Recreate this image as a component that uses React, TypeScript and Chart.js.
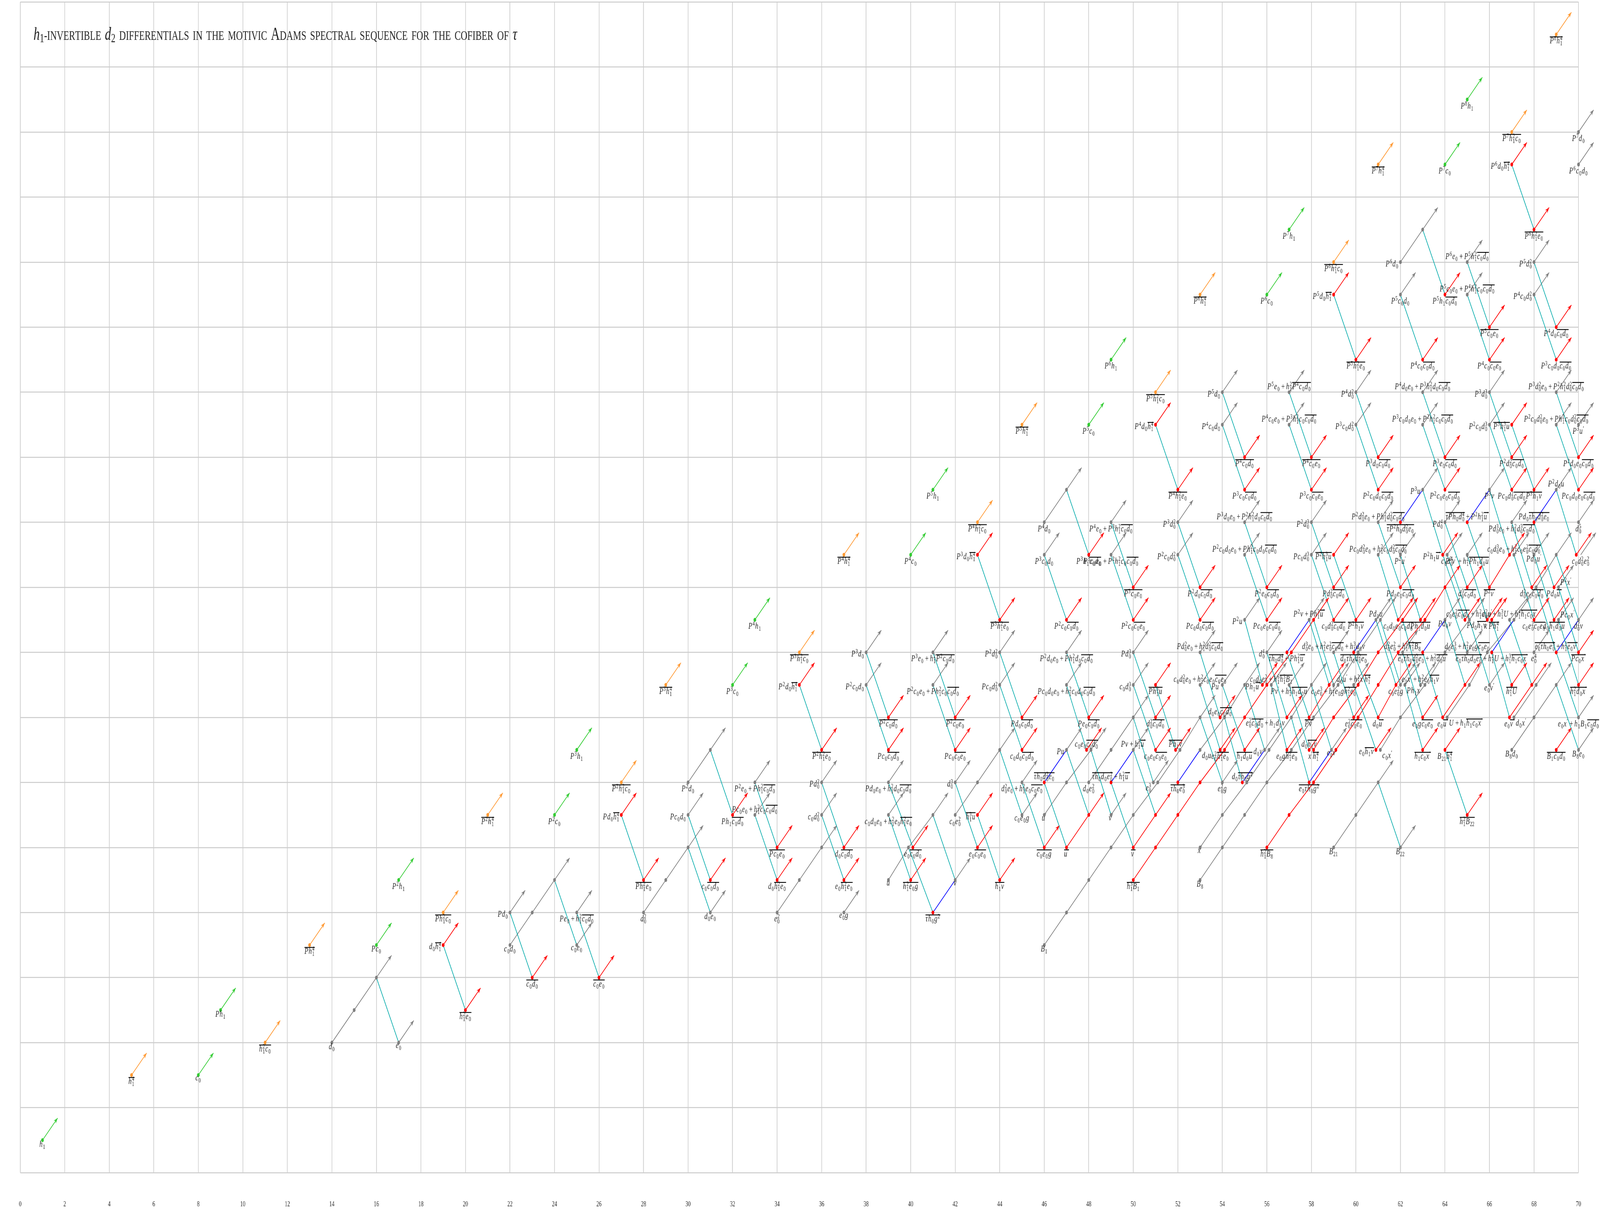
import React, { useEffect, useRef } from "react";
import { Chart, registerables } from "chart.js";

Chart.register(...registerables);

const stemTicks = [0, 2, 4, 6, 8, 10, 12, 14, 16, 18, 20, 22, 24, 26, 28, 30, 32, 34, 36, 38, 40, 42, 44, 46, 48, 50, 52, 54, 56, 58, 60, 62, 64, 66, 68, 70];
const titleText = "invertible differentials in the motivic Adams spectral sequence for the cofiber of";

const greenTowers = [[1,1],[9,5],[17,9],[25,13],[33,17],[41,21],[49,25],[57,29],[65,33],[8,3],[16,7],[24,11],[32,15],[40,19],[48,23],[56,27],[64,31]];
const orangeTowers = [[5,3],[13,7],[21,11],[29,15],[37,19],[45,23],[53,27],[61,31],[69,35],[11,4],[19,8],[27,12],[35,16],[43,20],[51,24],[59,28],[67,32]];
const redTowers = [
  [19,7],[20,5],[27,11],[28,9],[35,15],[36,13],[43,19],[44,17],[51,23],[52,21],[59,27],[60,25],[67,31],[68,29],
  [23,6],[32,11],[39,14],[48,19],[55,22],[64,27],
  [31,9],[39,13],[47,17],[55,21],[63,25],
  [26,6],[34,10],[42,14],[50,18],[58,22],[66,26],
  [34,9],[42,13],[50,17],[58,21],[66,25],
  [37,10],[45,14],[53,18],[61,22],[69,26],
  [37,9],[45,13],[53,17],[61,21],[69,25],
  [40.1,10],[48,14],[56,18],[64,22],
  [40,9],[47.9,13],[56,17],[64,21],
  [43,10],[51,14],[59,18],[67,22],
  [51,13],[59,17],[67,21],
  [46,10],[53.9,14],[62,18],[70,22],
  [53.9,13],[61.9,17],[70,21],
  [43,11],[44,9],[51,15],[51.9,13],[59,19],[60,17],[67,23],[68,21],
  [55,13],[55.8,15],[56.9,13],[56.9,14],[57.9,13],[59.9,14],[60.9,13],[62.9,17],[63,13],[63,14],[63.9,19],[64,13],[64.9,17],[65,11],[65,18],[65.9,17],[66.1,17],[67,15],[67.9,18],[68,17],[68.9,17],[68.9,18],[69,13],[69.9,19],[70,15],[70,16],
];
const redDots = [[41,8],[46,12],[49,12],[52,12],[54.9,12],[56.9,16],[57.9,12],[59.9,16],[62,20],[63,16],[65,20],[66.1,16],[68,20],[69,16]];
const grayTowers = [
  [17,4],[22,8],[25,7],[25,8],[30,11],[31,8],[33,11],[33,12],[36,11],[36,12],[37,8],[38,15],[38,16],[39,11],[39,12],[41,15],[41,16],[42,9],[42,12],
  [44,15],[44,16],[45,11],[45,12],[46,19],[47,13],[47,15],[47,16],[49,11],[49,19],[49,20],[50,13],[50,15],[50,16],[50.9,12],[52,19],[52,20],[53,15],[53,16],
  [54,12],[54,15],[54,23],[54,24],[55,17],[55,19],[55,20],[55.9,13],[56,16],[56.2,15],[57,15],[57,23],[57,24],[57.9,17],[58,19],[58,20],[58.9,13],[59,15],[59,16],[59.9,15],
  [60,23],[60,24],[60.9,17],[61,19],[61,20],[62,15],[62.1,16],[62.2,15],[62,19],[62,27],[62.9,15],[63,21],[63,23],[63,24],[64,17],[64,20],[64.1,19],
  [65,16],[65,19],[65,27],[65,28],[66,15],[66,21],[66,23],[66,24],[67,20],[67.1,19],[68,16],[68,19],[68,27],[68,28],[69,21],[69,23],[69,24],[69.1,17],[69.1,18],
  [70,13],[70,14],[70,17],[70,20],[70,23],[70,31],[70,32],[70.1,19],[62,10],
];
const grayChains = [
  [[14,4],[15,5],[16,6]],[[22,7],[23,8],[24,9]],[[28,8],[29,9],[30,10]],[[30,12],[31,13]],[[34,8],[35,9],[36,10]],
  [[39,9],[39.9,10],[41,11]],[[42,11],[43,12],[44,13]],[[46,20],[47,21]],[[62,28],[63,29]],
  [[46,11],[47,12],[48.1,13]],[[48,12],[49,13],[50,14]],
  [[46,7],[47,8],[48,9],[49,10],[50,11],[51.1,12],[52.1,13],[53,14]],
  [[53,13],[54.1,14],[55,15]],
  [[53,10],[54,11],[55.1,12],[56.1,13],[57.1,14],[58,15]],
  [[53,9],[54,10],[55,11],[56,12],[57.1,13],[58.1,14],[59.2,15],[60.1,16],[61.1,17]],
  [[59,10],[60,11],[61,12]],
  [[61.1,13],[62,14],[63.1,15],[64,16],[65.1,17]],
  [[64.1,14],[65.1,15],[65.9,16],[67.1,17]],
  [[66.9,17],[68.1,18],[69,19]],
  [[67,13],[68,14],[69,15]],[[67.1,14],[68.1,15]],
];
const redChains = [
  [[50,9],[51,10],[52,11],[53,12],[54.1,13],[55,14],[56,15],[57.1,16],[58.1,17]],
  [[56,10],[57,11],[58.1,12],[59.1,13],[60.1,14],[61,15],[61.9,16],[63.1,17],[64,18]],
  [[58.1,13],[59,14],[60.1,15],[61,16],[62.1,17]],
  [[47,10],[48,11]],[[50,10],[51,11]],[[57.9,14],[58.8,15]],[[66,18],[66.9,19]],[[61,14],[61.8,15]],[[63.9,14],[64.9,15]],[[66.9,14],[67.9,15]],
];
const blueLinks = [[41,8,42,9],[46,12,47,13],[49,12,50,13],[52,12,53,13],[54.9,12,55.9,13],[56.9,16,57.9,17],[57.9,12,58.9,13],[59.9,16,60.9,17],[62,20,63,21],[63,16,64,17],[65,20,66,21],[66.1,16,67.1,17],[68,20,69,21],[69,16,70,17]];
const cyanLinks = [
  [16,6,17,4],[22,8,23,6],[31,13,32,11],[38,16,39,14],[47,21,48,19],[54,24,55,22],[63,29,64,27],
  [24,9,25,7],[30,11,31,9],[38,15,39,13],[46,19,47,17],[54,23,55,21],[62,27,63,25],
  [19,7,20,5],[27,11,28,9],[35,15,36,13],[43,19,44,17],[51,23,52,21],[59,27,60,25],[67,31,68,29],
  [25,8,26,6],[33,12,34,10],[41,16,42,14],[49,20,50,18],[57,24,58,22],[65,28,66,26],
  [33,11,34,9],[41,15,42,13],[49,19,50,17],[57,23,58,21],[65,27,66,25],
  [30,10,31,8],[36,12,37,10],[44,16,45,14],[52,20,53,18],[60,24,61,22],[68,28,69,26],
  [36,11,37,9],[44,15,45,13],[52,19,53,17],[60,23,61,21],[68,27,69,25],
  [39,12,40.1,10],[47,16,48,14],[55,20,56,18],[63,24,64,22],
  [39,11,40,9],[47,15,47.9,13],[55,19,56,17],[63,23,64,21],
  [42,12,43,10],[50,16,51,14],[58,20,59,18],[66,24,67,22],
  [50,15,51,13],[58,19,59,17],[66,23,67,21],
  [45,12,46,10],[53,16,53.9,14],[61,20,62,18],[69,24,70,22],
  [53,15,53.9,13],[61,19,61.9,17],[69,23,70,21],
  [39.9,10,41,8],[41,11,42,9],[43,11,44,9],[44,13,45,11],[46,12,47,10],[47,13,48,11],[48.1,13,49,11],[49,12,50,10],[50,13,51,11],[50,14,50.9,12],[51,15,51.9,13],[53,14,54,12],[54,15,55,13],[54.1,14,54.9,12],[55,15,55.9,13],[55,17,55.8,15],[56,16,56.9,14],[56.2,15,56.9,13],[56.9,16,57.9,14],[57,15,57.9,13],[57.1,14,57.9,12],[57.9,17,58.8,15],[58,15,58.9,13],[58.1,17,59,15],[59,16,59.9,14],[59,19,60,17],[59.9,15,60.9,13],[59.9,16,61,14],[60.9,17,61.8,15],[61,12,62,10],[61.1,17,62,15],[62.2,15,63,13],[62.1,16,63,14],[62.1,17,62.9,15],[62,19,62.9,17],[63,16,63.9,14],[63,21,63.9,19],[63.9,19,64.9,17],[64,17,64.9,15],[64,18,65,16],[64,13,65,11],[64,20,65,18],[64.1,19,65.1,17],[65,19,65.9,17],[65,20,66,18],[65.1,17,66,15],[66,21,66.9,19],[66.1,16,66.9,14],[66.1,17,67,15],[66.9,17,67.9,15],[67,20,67.9,18],[67,23,68,21],[67.1,19,68,17],[68,19,68.9,17],[68,20,68.9,18],[68.1,18,69,16],[69,15,70,13],[69,16,70,14],[69,19,70,17],[69,21,69.9,19],[69.1,17,70,15],[69.1,18,70,16],
];

// [stem, filtration, text, placement]; [ ] marks an overlined stretch
const classLabels: any[] = [
  [1,1,"h_1","b"],[9,5,"Ph_1","b"],[17,9,"P^2h_1","b"],[25,13,"P^3h_1","b"],[33,17,"P^4h_1","b"],[41,21,"P^5h_1","b"],[49,25,"P^6h_1","b"],[57,29,"P^7h_1","b"],[65,33,"P^8h_1","b"],
  [8,3,"c_0","b"],[16,7,"Pc_0","b"],[24,11,"P^2c_0","b"],[32,15,"P^3c_0","b"],[40,19,"P^4c_0","b"],[48,23,"P^5c_0","b"],[56,27,"P^6c_0","b"],[64,31,"P^7c_0","b"],
  [5,3,"[h_1^4]","b"],[13,7,"[Ph_1^4]","b"],[21,11,"[P^2h_1^4]","b"],[29,15,"[P^3h_1^4]","b"],[37,19,"[P^4h_1^4]","b"],[45,23,"[P^5h_1^4]","b"],[53,27,"[P^6h_1^4]","b"],[61,31,"[P^7h_1^4]","b"],[69,35,"[P^8h_1^4]","b"],
  [11,4,"[h_1^2c_0]","b"],[19,8,"[Ph_1^2c_0]","b"],[27,12,"[P^2h_1^2c_0]","b"],[35,16,"[P^3h_1^2c_0]","b"],[43,20,"[P^4h_1^2c_0]","b"],[51,24,"[P^5h_1^2c_0]","b"],[59,28,"[P^6h_1^2c_0]","b"],[67,32,"[P^7h_1^2c_0]","b"],
  [14,4,"d_0","b"],[17,4,"e_0","b"],[20,5,"[h_1^2e_0]","b"],[19,7,"d_0[h_1^4]","l"],[22,7,"c_0d_0","b"],[22,8,"Pd_0","l"],[23,6,"[c_0d_0]","b"],[25,7,"c_0e_0","b"],[25,8,"Pe_0+h_1^2[c_0d_0]","b"],[26,6,"[c_0e_0]","b"],
  [27,11,"Pd_0[h_1^4]","l"],[28,8,"d_0^2","b"],[28,9,"[Ph_1^2e_0]","b"],[30,11,"Pc_0d_0","l"],[30,12,"P^2d_0","b"],[31,8,"d_0e_0","b"],[31,9,"c_0[c_0d_0]","b"],[32,11,"Ph_1[c_0d_0]","b"],[33,11,"Pc_0e_0+h_1^2c_0[c_0d_0]","t"],[33,12,"P^2e_0+Ph_1^2[c_0d_0]","b"],
  [34,8,"e_0^2","b"],[34,9,"d_0[h_1^2e_0]","b"],[34,10,"[Pc_0e_0]","b"],[35,15,"P^2d_0[h_1^4]","l"],[36,11,"c_0d_0^2","l"],[36,12,"Pd_0^2","l"],[36,13,"[P^2h_1^2e_0]","b"],[37,8,"e_0g","b"],[37,9,"e_0[h_1^2e_0]","b"],[37,10,"d_0[c_0d_0]","b"],
  [38,15,"P^2c_0d_0","l"],[38,16,"P^3d_0","l"],[39,9,"u","b"],[39,11,"c_0d_0e_0+h_1^2e_0[h_1^2e_0]","b"],[39,12,"Pd_0e_0+h_1^2d_0[c_0d_0]","b"],[39,13,"Pc_0[c_0d_0]","b"],[39,14,"[P^2c_0d_0]","b"],[40,9,"[h_1^2e_0g]","b"],[40.1,10,"e_0[c_0d_0]","b"],[41,8,"[τh_0g^2]","b"],
  [41,15,"P^2c_0e_0+Ph_1^2c_0[c_0d_0]","b"],[41,16,"P^3e_0+h_1^2[P^2c_0d_0]","b"],[42,9,"v","b"],[42,11,"c_0e_0^2","b"],[42,12,"d_0^3","l"],[42,13,"Pc_0[c_0e_0]","b"],[42,14,"[P^2c_0e_0]","b"],[43,10,"e_0[c_0e_0]","b"],[43,11,"[h_1^3u]","l"],[43,19,"P^3d_0[h_1^4]","l"],[44,17,"[P^3h_1^2e_0]","b"],
  [44,9,"[h_1v]","b"],[44,15,"Pc_0d_0^2","l"],[44,16,"P^2d_0^2","l"],[45,11,"c_0e_0g","b"],[45,12,"d_0^2e_0+h_1^2e_0[c_0e_0]","b"],[45,13,"c_0d_0[c_0d_0]","b"],[45,14,"Pd_0[c_0d_0]","b"],
  [46,7,"B_1","b"],[46,10,"[c_0e_0g]","b"],[46,11,"u'","b"],[46,12,"[τh_0d_0^2e_0]","t"],[46,19,"P^3c_0d_0","b"],[46,20,"P^4d_0","b"],[47,10,"[u']","b"],[47,13,"Pu","l"],[47,15,"Pc_0d_0e_0+h_1^2c_0d_0[c_0d_0]","b"],[47,16,"P^2d_0e_0+Ph_1^2d_0[c_0d_0]","b"],[47,17,"P^2c_0[c_0d_0]","b"],
  [47.9,13,"c_0e_0[c_0d_0]","t"],[48,12,"d_0e_0^2","b"],[48,14,"Pe_0[c_0d_0]","b"],[48,19,"P^3h_1[c_0d_0]","b"],[49,11,"v'","b"],[49,12,"[τh_0d_0e_0^2]+h_1^2[u']","t"],[49,19,"P^3c_0e_0+P^2h_1^2c_0[c_0d_0]","b"],[49,20,"P^4e_0+P^3h_1^2[c_0d_0]","b"],
  [50,9,"[h_1^3B_1]","b"],[50,10,"[v']","b"],[50,13,"Pv+h_1^3[u']","t"],[50,15,"c_0d_0^3","l"],[50,16,"Pd_0^3","l"],[50,17,"P^2c_0[c_0e_0]","b"],[50,18,"[P^3c_0e_0]","b"],[50.9,12,"e_0^3","bl"],[51,13,"c_0e_0[c_0e_0]","b"],[51,14,"d_0^2[c_0d_0]","b"],[51,15,"[Ph_1^3u]","b"],[51,23,"P^4d_0[h_1^4]","l"],[51.9,13,"[Ph_1v]","t"],
  [52,12,"[τh_0e_0^3]","b"],[52,19,"P^2c_0d_0^2","l"],[52,20,"P^3d_0^2","l"],[52,21,"[P^4h_1^2e_0]","b"],[53,9,"B_8","b"],[53,10,"x'","b"],[53,13,"d_0u","br"],[53,15,"c_0d_0^2e_0+h_1^2c_0e_0[c_0e_0]","t"],[53,16,"Pd_0^2e_0+h_1^2d_0^2[c_0d_0]","t"],[53,17,"Pc_0d_0[c_0d_0]","b"],[53,18,"P^2d_0[c_0d_0]","b"],[53.9,13,"e_0^2[h_1^2e_0]","b"],[53.9,14,"d_0e_0[c_0d_0]","t"],
  [54,12,"e_0^2g","b"],[54,15,"Pu'","l"],[54,23,"P^4c_0d_0","l"],[54,24,"P^5d_0","l"],[54.9,12,"d_0[τh_0g^2]","t"],[55,13,"[h_1d_0u]","b"],[55,17,"P^2u","l"],[55,19,"P^2c_0d_0e_0+Ph_1^2c_0d_0[c_0d_0]","t"],[55,20,"P^3d_0e_0+P^2h_1^2d_0[c_0d_0]","t"],[55,21,"P^3c_0[c_0d_0]","b"],[55,22,"[P^4c_0d_0]","b"],[55.8,15,"Ph_1[u']","l"],[55.9,13,"d_0v","l"],
  [56,10,"[h_1^2B_8]","b"],[56,16,"d_0^4","l"],[56,17,"Pc_0e_0[c_0d_0]","b"],[56,18,"P^2e_0[c_0d_0]","b"],[56.2,15,"c_0d_0e_0^2+h_1^6[h_1^3B_1]","t"],[56.9,13,"e_0g[h_1^2e_0]","b"],[56.9,14,"e_0^2[c_0d_0]+h_1d_0v","bl"],[56.9,16,"[τh_0d_0^4]+Ph_1^2[u']","b"],[57,15,"Pv'+h_1^2[h_1d_0u]","b"],[57,23,"P^4c_0e_0+P^3h_1^2c_0[c_0d_0]","t"],[57,24,"P^5e_0+h_1^2[P^4c_0d_0]","t"],
  [57.9,12,"[e_0τh_0g^2]","b"],[57.9,13,"d_0[h_1v]","t"],[57.9,14,"[Pv']","b"],[57.9,17,"P^2v+Ph_1^3[u']","t"],[58,19,"Pc_0d_0^3","l"],[58,20,"P^2d_0^3","l"],[58,21,"P^3c_0[c_0e_0]","b"],[58,22,"[P^4c_0e_0]","b"],[58.1,13,"x'[h_1^4]","b"],[58.9,13,"e_0v","b"],
  [59,10,"B_{21}","b"],[59,15,"c_0e_0^3+h_1^2e_0g[h_1^2e_0]","b"],[59,16,"d_0^3e_0+h_1^2e_0^2[c_0d_0]+h_1^3d_0v","t"],[59,17,"c_0d_0^2[c_0d_0]","b"],[59,18,"Pd_0^2[c_0d_0]","b"],[59,19,"[P^2h_1^3u]","l"],[59,27,"P^5d_0[h_1^4]","l"],[59.9,14,"e_0^2[c_0e_0]","b"],[59.9,15,"d_0u'+h_1^2x'[h_1^4]","t"],[59.9,16,"[d_0τh_0d_0^2e_0]","b"],
  [60,17,"[P^2h_1v]","b"],[60,23,"P^3c_0d_0^2","l"],[60,24,"P^4d_0^2","l"],[60,25,"[P^5h_1^2e_0]","b"],[60.9,13,"e_0[h_1v]","l"],[60.9,17,"Pd_0u","t"],[61,14,"d_0[u']","b"],[61,19,"Pc_0d_0^2e_0+h_1^2c_0d_0^2[c_0d_0]","t"],[61,20,"P^2d_0^2e_0+Ph_1^2d_0^2[c_0d_0]","t"],[61,21,"P^2c_0d_0[c_0d_0]","b"],[61,22,"P^3d_0[c_0d_0]","b"],[61.1,13,"c_0x'","br"],[61.8,15,"c_0e_0^2g","b"],[61.9,17,"c_0d_0e_0[c_0d_0]","b"],
  [62,10,"B_{22}","b"],[62,18,"Pd_0e_0[c_0d_0]","b"],[62,19,"P^2u'","b"],[62,20,"[τP^2h_0d_0^2e_0]","b"],[62,27,"P^5c_0d_0","b"],[62,28,"P^6d_0","l"],[62.1,16,"d_0^2e_0^2+h_1^6[h_1^2B_8]","t"],[62.2,15,"Ph_1x'","br"],[62.9,15,"e_0x'+h_1^2e_0[h_1v]","t"],[62.9,17,"[Ph_1d_0u]","b"],
  [63,13,"[h_1c_0x']","b"],[63,14,"e_0g[c_0e_0]","b"],[63,16,"[e_0τh_0d_0^2e_0]+h_1^2[d_0u']","b"],[63,21,"P^3u","l"],[63,23,"P^3c_0d_0e_0+P^2h_1^2c_0[c_0d_0]","t"],[63,24,"P^4d_0e_0+P^3h_1^2d_0[c_0d_0]","t"],[63,25,"P^4c_0[c_0d_0]","b"],[63.9,14,"e_0[u']","b"],[63.9,19,"P^2h_1[u']","l"],
  [64,13,"B_{21}[h_1^4]","b"],[64,17,"Pd_0v","b"],[64,20,"Pd_0^4","l"],[64,21,"P^2c_0e_0[c_0d_0]","b"],[64,22,"P^3e_0[c_0d_0]","b"],[64,27,"P^5h_1[c_0d_0]","b"],[64.1,14,"U+h_1[h_1c_0x']","br"],[64.1,19,"c_0d_0^4","b"],[64.9,17,"Pd_0[h_1v]","br"],
  [65,11,"[h_1^2B_{22}]","b"],[65,16,"d_0e_0^3+h_1^2e_0g[c_0e_0]","t"],[65,18,"d_0^3[c_0d_0]","b"],[65,19,"P^2v'+h_1^2[Ph_1d_0u]","b"],[65,20,"[τPh_0d_0^4]+P^2h_1^2[u']","t"],[65,27,"P^5c_0e_0+P^4h_1^2c_0[c_0d_0]","t"],[65,28,"P^6e_0+P^5h_1^2[c_0d_0]","t"],[65.1,17,"c_0e_0^2[c_0d_0]+h_1^2e_0u'","t"],
  [66,15,"e_0v'","b"],[66,18,"[P^2v']","b"],[66,21,"P^3v","b"],[66,23,"P^2c_0d_0^3","l"],[66,24,"P^3d_0^3","l"],[66,25,"P^4c_0[c_0e_0]","b"],[66,26,"[P^5c_0e_0]","b"],[66.1,16,"[e_0τh_0d_0e_0^2]+h_1^2U+h_1^3[h_1c_0x']","b"],[66.1,17,"x'[Ph_1^4]","b"],[66.9,14,"e_0[v']","b"],[66.9,17,"d_0^2u+h_1^3U+h_1^4[h_1c_0x']","t"],
  [67,13,"B_8d_0","b"],[67,15,"[h_1^2U]","b"],[67,20,"Pd_0^3e_0+h_1^2d_0^3[c_0d_0]","b"],[67,21,"Pc_0d_0^2[c_0d_0]","b"],[67,22,"P^2d_0^2[c_0d_0]","b"],[67,23,"[P^3h_1^3u]","l"],[67,31,"P^6d_0[h_1^4]","l"],[67.1,14,"d_0x'","br"],[67.1,19,"c_0d_0^3e_0+h_1^2c_0e_0^2[c_0d_0]","t"],[67.9,18,"d_0^2e_0[c_0d_0]","b"],
  [68,16,"e_0^4","b"],[68,17,"c_0e_0^2[c_0e_0]","b"],[68,19,"Pd_0u'","b"],[68,20,"Pd_0[τh_0d_0^2e_0]","t"],[68,21,"[P^3h_1v]","b"],[68,27,"P^4c_0d_0^2","l"],[68,28,"P^5d_0^2","l"],[68,29,"[P^6h_1^2e_0]","b"],[68.9,17,"d_0[h_1d_0u]","b"],[68.9,18,"Pd_0[u']","b"],
  [69,13,"[B_1c_0d_0]","b"],[69,16,"[e_0τh_0e_0^3]+h_1^2[e_0v']","t"],[69,21,"P^2d_0u","t"],[69,23,"P^2c_0d_0^2e_0+Ph_1^2c_0d_0^2[c_0d_0]","t"],[69,24,"P^3d_0^2e_0+P^2h_1^2d_0^2[c_0d_0]","t"],[69,25,"P^3c_0d_0[c_0d_0]","b"],[69,26,"P^4d_0[c_0d_0]","b"],[69.1,17,"Pc_0x'","tr"],[69.1,18,"P^2x'","tr"],
  [70,13,"B_8e_0","b"],[70,14,"e_0x'+h_1B_1[c_0d_0]","b"],[70,15,"[h_1^2d_0x']","b"],[70,16,"[Pc_0x']","b"],[70,17,"d_0^2v","b"],[70,20,"d_0^5","b"],[70,21,"Pc_0d_0e_0[c_0d_0]","b"],[70,22,"P^2d_0e_0[c_0d_0]","b"],[70,23,"P^3u'","b"],[70,31,"P^6c_0d_0","b"],[70,32,"P^7d_0","b"],[70.1,19,"c_0d_0^2e_0^2","b"],
];

const COLORS = { gray: "#808080", red: "#ff0000", green: "#33cc33", orange: "#ff9933", cyan: "#00aaaa", blue: "#0000ff", grid: "#cccccc", ink: "#222222" };
const ARROW = 0.68;
const GAP = { x: NaN, y: NaN };
const FONT = '"Liberation Serif"';
const PAGE_W = 5916;
const PAGE_H = 3099;

const links = (list: number[][]) => list.flatMap(([a, b, c, d]) => [{ x: a, y: b }, { x: c, y: d }, GAP]);
const towers = (list: number[][]) => list.flatMap(([a, b]) => [{ x: a, y: b }, { x: a + ARROW, y: b + ARROW }, GAP]);
const chains = (list: number[][][]) => list.flatMap((c) => [...c.map(([x, y]) => ({ x, y })), GAP]);
const dots = (list: number[][]) => list.map(([x, y]) => ({ x, y }));

const lineSet = (data: any[], color: string, order: number) => ({
  type: "scatter", data, showLine: true, borderColor: color, backgroundColor: color, borderWidth: 2.2, pointRadius: 0, pointHoverRadius: 0, spanGaps: false, clip: false, order,
});
const dotSet = (data: any[], color: string, order: number) => ({
  type: "scatter", data, showLine: false, borderWidth: 0, borderColor: color, backgroundColor: color, pointRadius: 5, pointHoverRadius: 5, clip: false, order,
});

function parseMath(s: string) {
  const out: any[] = [];
  let bar = false;
  let i = 0;
  const script = () => {
    if (s[i] === "{") {
      const e = s.indexOf("}", i);
      const v = s.slice(i + 1, e);
      i = e + 1;
      return v;
    }
    return s[i++];
  };
  while (i < s.length) {
    const c = s[i++];
    if (c === "[") { bar = true; continue; }
    if (c === "]") { bar = false; continue; }
    if (c === "'") { if (out.length) out[out.length - 1].sup = "′"; continue; }
    const tok: any = { c, bar };
    while (s[i] === "^" || s[i] === "_") {
      const k = s[i++];
      const v = script();
      if (k === "^") tok.sup = v; else tok.sub = v;
    }
    out.push(tok);
  }
  return out;
}

const fontFor = (ch: string, size: number) => (/[0-9+′]/.test(ch) ? `${size}px ${FONT}` : `italic ${size}px ${FONT}`);

function drawMath(ctx: CanvasRenderingContext2D, px: number, py: number, text: string, place: string) {
  const toks = parseMath(text);
  if (!toks.length) return;
  const BASE = 23;
  const SMALL = 16;
  let width = 0;
  toks.forEach((t) => {
    ctx.font = fontFor(t.c, BASE);
    t.w = ctx.measureText(t.c).width + (t.c === "+" ? 10 : 1.5);
    t.sw = 0;
    if (t.sup) { ctx.font = fontFor(t.sup[0], SMALL); t.sw = Math.max(t.sw, ctx.measureText(t.sup).width + 1.5); }
    if (t.sub) { ctx.font = fontFor(t.sub[0], SMALL); t.sw = Math.max(t.sw, ctx.measureText(t.sub).width + 1.5); }
    width += t.w + t.sw;
  });
  const tall = /[\^\[]/.test(text);
  const mid = /[A-Zdhbflk]/.test(text);
  const below = tall ? 23 : mid ? 17 : 14;
  let x = px - width / 2;
  let y = py + below;
  if (place === "l") { x = px - 7 - width; y = py + 11; }
  if (place === "t") { y = py - 8; }
  if (place === "r") { x = px + 7; y = py + 11; }
  if (place === "br") { x = px + 7; y = py + 21; }
  if (place === "bl") { x = px - 7 - width; y = py + 21; }
  if (place === "tr") { x = px + 7; y = py - 6; }
  ctx.fillStyle = COLORS.ink;
  ctx.textAlign = "left";
  ctx.textBaseline = "alphabetic";
  let barStart: number | null = null;
  const flushBar = (end: number) => {
    if (barStart === null) return;
    ctx.fillStyle = "#000000";
    ctx.fillRect(barStart, y - 18, end - barStart, 2.2);
    ctx.fillStyle = COLORS.ink;
    barStart = null;
  };
  toks.forEach((t) => {
    if (t.bar && barStart === null) barStart = x;
    if (!t.bar) flushBar(x);
    ctx.font = fontFor(t.c, BASE);
    ctx.fillText(t.c, t.c === "+" ? x + 5 : x, y);
    const sx = x + t.w;
    if (t.sup) { ctx.font = fontFor(t.sup[0], SMALL); ctx.fillText(t.sup, sx, y - 8); }
    if (t.sub) { ctx.font = fontFor(t.sub[0], SMALL); ctx.fillText(t.sub, sx, y + 5); }
    x = sx + t.sw;
  });
  flushBar(x);
}

function drawHead(ctx: CanvasRenderingContext2D, x: number, y: number, color: string) {
  const u = Math.SQRT1_2;
  const bx = -u, by = u;
  const nx = u, ny = u;
  ctx.fillStyle = color;
  ctx.beginPath();
  ctx.moveTo(x, y);
  ctx.lineTo(x + bx * 15 + nx * 5.5, y + by * 15 + ny * 5.5);
  ctx.lineTo(x + bx * 10, y + by * 10);
  ctx.lineTo(x + bx * 15 - nx * 5.5, y + by * 15 - ny * 5.5);
  ctx.closePath();
  ctx.fill();
}

function drawTitle(ctx: CanvasRenderingContext2D) {
  const parts: any[] = [["h", "m"], ["1", "s"], ["-", "c"], ["invertible", "c"], [" ", "c"], ["d", "m"], ["2", "s"], [" ", "c"]];
  titleText.split(" ").slice(1).forEach((w) => {
    parts.push([w, "c"]);
    parts.push([" ", "c"]);
  });
  parts.push(["τ", "m"]);
  const left = 124;
  const right = 1913;
  const pieces: any[] = [];
  parts.forEach(([txt, k]) => {
    if (k !== "c") { pieces.push([txt, k]); return; }
    for (const ch of txt) pieces.push([ch, ch >= "A" && ch <= "Z" ? "u" : "c"]);
  });
  const fontOf = (k: string, size: number) => {
    if (k === "m") return `italic ${size}px ${FONT}`;
    if (k === "s") return `${size * 0.7}px ${FONT}`;
    if (k === "u") return `${size}px ${FONT}`;
    return `${size * 0.74}px ${FONT}`;
  };
  const widthAt = (size: number) => pieces.reduce((acc, [t, k]) => {
    ctx.font = fontOf(k, size);
    return acc + ctx.measureText(k === "c" ? t.toUpperCase() : t).width + (t === " " ? size * 0.12 : 0);
  }, 0);
  const size = 100 * (right - left) / widthAt(100);
  let x = left;
  const y = 102;
  ctx.fillStyle = COLORS.ink;
  ctx.textAlign = "left";
  ctx.textBaseline = "alphabetic";
  pieces.forEach(([t, k]) => {
    ctx.font = fontOf(k, size);
    const shown = k === "c" ? t.toUpperCase() : t;
    ctx.fillText(shown, x, k === "s" ? y + size * 0.14 : y);
    x += ctx.measureText(shown).width + (t === " " ? size * 0.12 : 0);
  });
}

const overlayPlugin = {
  id: "overlay",
  afterDatasetsDraw(chart: any) {
    const { ctx, scales } = chart;
    const X = scales.x;
    const Y = scales.y;
    ctx.save();
    const head = (list: number[][], color: string) => list.forEach(([s, f]) => drawHead(ctx, X.getPixelForValue(s + ARROW), Y.getPixelForValue(f + ARROW), color));
    head(greenTowers, COLORS.green);
    head(orangeTowers, COLORS.orange);
    head(redTowers, COLORS.red);
    head(grayTowers, COLORS.gray);
    head(grayChains.map((c) => c[c.length - 1]), COLORS.gray);
    head(redChains.map((c) => c[c.length - 1]), COLORS.red);
    classLabels.forEach(([s, f, text, place]) => drawMath(ctx, X.getPixelForValue(s), Y.getPixelForValue(f), text, place));
    drawTitle(ctx);
    ctx.restore();
  },
};

export default function App() {
  const ref = useRef<HTMLCanvasElement | null>(null);
  useEffect(() => {
    document.body.style.margin = "0";
    document.documentElement.style.overflow = "hidden";
    const canvas = ref.current as HTMLCanvasElement;
    const fit = () => {
      // the chart is always drawn at 5916x3099; only its displayed size follows a smaller window
      canvas.style.width = `${Math.min(window.innerWidth, PAGE_W)}px`;
      canvas.style.height = `${Math.min(window.innerHeight, PAGE_H)}px`;
    };
    fit();
    const grayEnds = grayChains.map((c) => c[c.length - 1]);
    const redEnds = redChains.map((c) => c[c.length - 1]);
    const chart = new Chart(canvas, {
      type: "scatter",
      data: {
        datasets: [
          dotSet(dots(greenTowers), COLORS.green, 1),
          dotSet(dots(orangeTowers), COLORS.orange, 1),
          dotSet(dots([...grayTowers, ...grayChains.flat()]), COLORS.gray, 2),
          dotSet(dots([...redTowers, ...redDots, ...redChains.flat()]), COLORS.red, 1),
          lineSet(links(cyanLinks), COLORS.cyan, 3),
          lineSet(links(blueLinks), COLORS.blue, 3),
          lineSet(towers([...redTowers, ...redEnds]), COLORS.red, 4),
          lineSet(chains(redChains), COLORS.red, 4),
          lineSet(towers([...grayTowers, ...grayEnds]), COLORS.gray, 5),
          lineSet(chains(grayChains), COLORS.gray, 5),
          lineSet(towers(greenTowers), COLORS.green, 5),
          lineSet(towers(orangeTowers), COLORS.orange, 5),
        ] as any,
      },
      options: {
        animation: false,
        responsive: false,
        devicePixelRatio: 1,
        events: [],
        layout: { padding: { left: 25.6, right: 68, top: 5, bottom: 0 } },
        plugins: { legend: { display: false }, tooltip: { enabled: false }, title: { display: false } },
        scales: {
          x: {
            type: "linear", min: 0, max: 70,
            afterBuildTicks: (axis: any) => { axis.ticks = stemTicks.map((value) => ({ value })); },
            afterFit: (axis: any) => { axis.height = 98; },
            grid: { color: COLORS.grid, lineWidth: 2.4, drawTicks: false },
            border: { display: false },
            ticks: { maxRotation: 0, autoSkip: false, padding: 70, color: COLORS.ink, font: { family: FONT, size: 19 } },
          },
          y: {
            type: "linear", min: 0, max: 36,
            afterFit: (axis: any) => { axis.width = 0; },
            grid: { color: COLORS.grid, lineWidth: 2.4, drawTicks: false },
            border: { display: false },
            ticks: { display: false, stepSize: 2 },
          },
        },
      } as any,
      plugins: [overlayPlugin] as any,
    });
    fit();
    return () => chart.destroy();
  }, []);
  return <canvas ref={ref} width={PAGE_W} height={PAGE_H} style={{ display: "block" }} />;
}
